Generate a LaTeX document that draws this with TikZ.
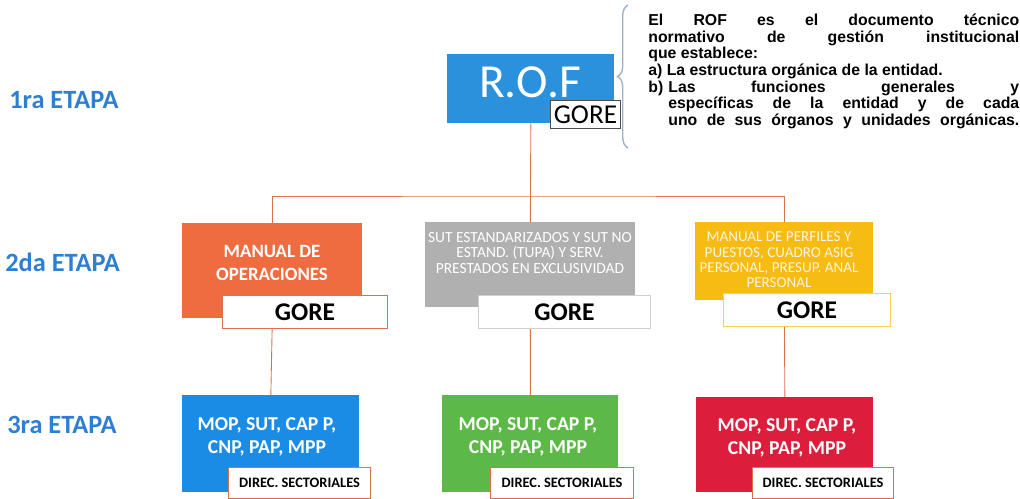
\documentclass[tikz,border=0pt]{standalone}
\usepackage{fontspec}
\setmainfont{Carlito}
\newfontfamily\arialfont{Liberation Sans}
\usetikzlibrary{backgrounds,decorations.pathreplacing}
\definecolor{rofblue}{HTML}{2B91DC}
\definecolor{etapablue}{HTML}{2E7FD2}
\definecolor{manorange}{HTML}{EE6C3F}
\definecolor{sutgray}{HTML}{B0B0B0}
\definecolor{peryellow}{HTML}{F7BC14}
\definecolor{mopblue}{HTML}{1A8CE6}
\definecolor{mopgreen}{HTML}{5DB947}
\definecolor{mopred}{HTML}{DC1E3C}
\definecolor{linkred}{HTML}{D9704F}
\definecolor{bracegray}{HTML}{9DB2CA}
\begin{document}
\begin{tikzpicture}[x=0.02cm,y=-0.02cm,
  box/.style={inner sep=0pt,anchor=north west},
  gorebox/.style={box,fill=white,draw=linkred,line width=0.6pt,minimum height=0.66cm,font=\fontsize{14.5}{16}\selectfont\bfseries},
  dirbox/.style={box,fill=white,draw=linkred,line width=0.6pt,minimum height=0.62cm,font=\fontsize{8.2}{10}\selectfont\bfseries},
  wtext/.style={text=white,align=center,inner sep=0pt},
  moptext/.style={wtext,font=\fontsize{11.2}{13}\selectfont\bfseries},
  etapa/.style={anchor=west,inner sep=0pt,text=etapablue,font=\fontsize{15}{16}\selectfont\bfseries},
  conn/.style={draw=linkred,line width=0.5pt}]
\useasboundingbox (0,0) rectangle (1020,499);
\node[etapa] (e1) at (9,100) {1ra ETAPA};
\node[etapa] (e2) at (5,262) {2da ETAPA};
\node[etapa] (e3) at (7,425) {3ra ETAPA};
\node[box,fill=rofblue,minimum width=3.34cm,minimum height=1.38cm] (rof) at (447,54) {};
\node[wtext,font=\fontsize{27}{30}\selectfont] (rofT) at (530,82) {R.O.F};
\node[box,fill=white,draw=black!70,line width=0.5pt,minimum width=1.4cm,minimum height=0.56cm,font=\fontsize{15.5}{17}\selectfont] (rofgore) at (550,100) {GORE};
\draw[bracegray,line width=0.8pt,decorate,decoration={brace,amplitude=6pt}] (628,148) -- (628,5);
\node[anchor=north west,inner sep=0pt,text width=7.42cm,align=justify,font=\arialfont\bfseries\fontsize{9}{9.4}\selectfont] (info) at (648,14)
  {\hyphenpenalty=10000 \emergencystretch=2em
   El ROF es el documento técnico\linebreak normativo de gestión institucional\linebreak que establece:\par
   a) La estructura orgánica de la entidad.\par
   \hangindent=0.4cm \hangafter=1 \parfillskip=0pt \leavevmode\hbox to 0.4cm{b)\hfil}Las funciones generales y\linebreak específicas de la entidad y de cada\linebreak uno de sus órganos y unidades orgánicas.\par};
\node[box,fill=manorange,minimum width=3.6cm,minimum height=1.9cm] (man) at (182,223) {};
\node[wtext,font=\fontsize{10.7}{13}\selectfont\bfseries] (manT) at (272,263) {MANUAL DE\\OPERACIONES};
\node[gorebox,minimum width=3.3cm] (mangore) at (222,295) {GORE};
\node[box,fill=sutgray,minimum width=4.2cm,minimum height=1.7cm] (sut) at (425,222) {};
\node[wtext,font=\fontsize{8.8}{9}\selectfont] (sutT) at (530,253) {SUT ESTANDARIZADOS Y SUT NO\\ESTAND. (TUPA) Y SERV.\\PRESTADOS EN EXCLUSIVIDAD};
\node[gorebox,draw=sutgray!60,minimum width=3.44cm] (sutgore) at (478,295) {GORE};
\node[box,fill=peryellow,minimum width=3.56cm,minimum height=1.56cm] (per) at (695,222) {};
\node[wtext,text=white!85!peryellow,font=\fontsize{8.6}{8.7}\selectfont] (perT) at (779,260) {MANUAL DE PERFILES Y\\PUESTOS, CUADRO ASIG\\PERSONAL, PRESUP. ANAL\\PERSONAL};
\node[gorebox,draw=peryellow!70,minimum width=3.34cm] (pergore) at (723,293) {GORE};
\node[box,fill=mopblue,minimum width=3.54cm,minimum height=1.94cm] (mop1) at (182,395) {};
\node[moptext] (mopT1) at (267,437) {MOP, SUT, CAP P,\\CNP, PAP, MPP};
\node[dirbox,minimum width=2.84cm] (dir1) at (228,467) {DIREC. SECTORIALES};
\node[box,fill=mopgreen,minimum width=3.52cm,minimum height=1.94cm] (mop2) at (442,395) {};
\node[moptext] (mopT2) at (528,437) {MOP, SUT, CAP P,\\CNP, PAP, MPP};
\node[dirbox,minimum width=2.86cm] (dir2) at (490,467) {DIREC. SECTORIALES};
\node[box,fill=mopred,minimum width=3.54cm,minimum height=1.9cm] (mop3) at (696,397) {};
\node[moptext] (mopT3) at (787,438) {MOP, SUT, CAP P,\\CNP, PAP, MPP};
\node[dirbox,minimum width=2.82cm] (dir3) at (752,467) {DIREC. SECTORIALES};
\begin{scope}[on background layer]
\coordinate (bus) at (530,196);
\draw[conn] (rof.south) -- (sut.north);
\draw[conn] (man.north) |- (bus) -| (per.north);
\draw[conn] (man.south) -- (mop1.north);
\draw[conn] (sut.south) -- (mop2.north);
\draw[conn] (per.south) -- (mop3.north);
\end{scope}
\end{tikzpicture}
\end{document}
